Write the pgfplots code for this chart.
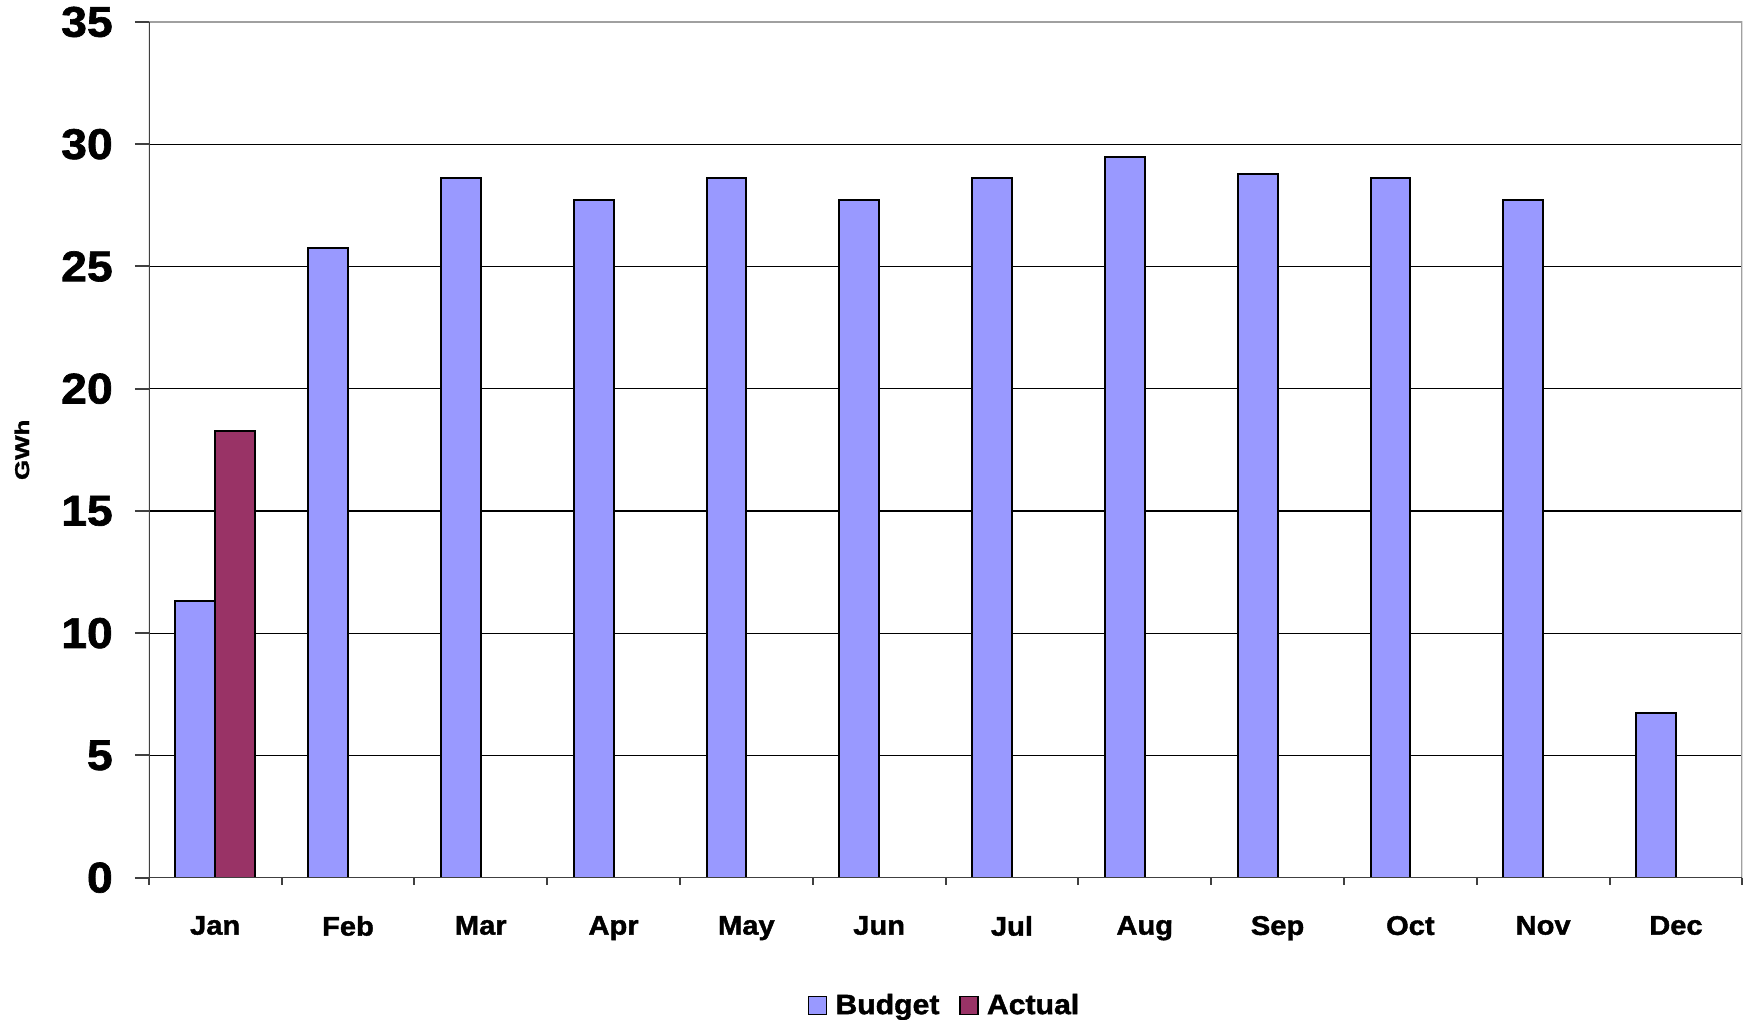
\documentclass[border=0pt]{standalone}
\usepackage{fontspec}
\setmainfont{Liberation Sans}[FakeStretch=1.08]
\newfontfamily\heavy{Liberation Sans Bold}[FakeStretch=1.08, FakeBold=1.5]
\usepackage{graphicx}
\usepackage{pgfplots}
\pgfplotsset{compat=1.18}
\definecolor{budget}{HTML}{9999FF}
\definecolor{actual}{HTML}{993366}
\definecolor{axisdark}{HTML}{404040}
\definecolor{axislight}{HTML}{A0A0A0}
\begin{document}
\begin{tikzpicture}
\begin{axis}[
  scale only axis,
  width=798pt, height=428.5pt,
  xmin=-0.5, xmax=11.5,
  ymin=0, ymax=35,
  axis line style={draw=none},
  tick pos=left,
  xtick={0,...,11},
  xticklabels={Jan,Feb,Mar,Apr,May,Jun,Jul,Aug,Sep,Oct,Nov,Dec},
  xtick style={draw=none},
  extra x ticks={-0.5,0.5,...,11.5},
  extra x tick labels={},
  extra x tick style={xtick style={draw=axisdark, line width=1pt}, major tick length=3.5pt, tick pos=left},
  ytick={0,5,...,30},
  extra y ticks={35},
  extra y tick style={grid=none, tick pos=left},
  tick align=outside,
  major tick length=7pt,
  ytick style={draw=axisdark, line width=1pt},
  ymajorgrids,
  major grid style={black, line width=0.6pt},
  /pgf/number format/assume math mode=true,
  yticklabel style={font=\fontsize{21.5}{24}\heavy, xshift=-7.5pt},
  xticklabel style={font=\fontsize{13.5}{16}\heavy, yshift=-8.7pt},
  ylabel={\scalebox{1.2}[1]{GWh}},
  ylabel style={font=\fontsize{10}{12}\heavy, at={(axis description cs:-0.0796,0.5)}, anchor=center},
  legend columns=2,
  legend style={at={(axis description cs:0.5,-0.1494)}, anchor=center, draw=none, fill=none,
    inner sep=0pt,
    font=\fontsize{14}{16}\heavy,
    nodes={inner xsep=2pt, inner ysep=0.5pt},
    /tikz/every even column/.append style={column sep=8pt},
    /tikz/every odd column/.append style={column sep=2pt}},
  legend image code/.code={\draw[#1, draw=black, line width=0.8pt] (0pt,-4.5pt) rectangle (9pt,4.5pt);},
]
\addplot[ybar, bar width=19.95pt, bar shift=-9.975pt, fill=budget, draw=black, line width=1pt]
  coordinates {(0,11.30) (1,25.76) (2,28.61) (3,27.70) (4,28.61) (5,27.70) (6,28.61) (7,29.46) (8,28.80) (9,28.61) (10,27.70) (11,6.73)};
\addlegendentry{Budget}
\addplot[ybar, bar width=19.95pt, bar shift=9.975pt, fill=actual, draw=black, line width=1pt]
  coordinates {(0,18.28)};
\addlegendentry{Actual}
\draw[axislight, line width=1pt] (rel axis cs:0,1) -- (rel axis cs:1,1) -- (rel axis cs:1,0);
\draw[axisdark, line width=1pt] (rel axis cs:0,1) -- (rel axis cs:0,0) -- (rel axis cs:1,0);
\end{axis}
\path (current axis.south west) ++(-74.5pt,-71pt) coordinate (bl);
\path (current axis.north east) ++(2pt,11pt) coordinate (tr);
\path (bl) rectangle (tr);
\end{tikzpicture}
\end{document}
